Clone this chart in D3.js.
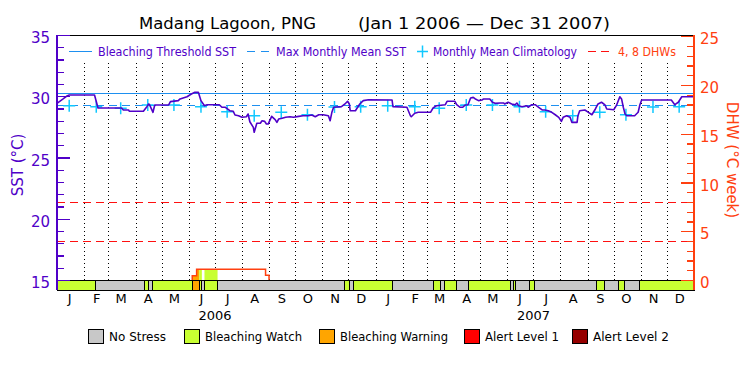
<!DOCTYPE html>
<html>
<head>
<meta charset="utf-8">
<script src="https://cdn.jsdelivr.net/npm/d3@7"></script>
<style>
  body { margin: 0; background: #fff; }
  text { font-family: "DejaVu Sans", sans-serif; }
</style>
</head>
<body>
<svg width="750" height="375"></svg>
<script>
// Chart data (days counted from Jan 1 2006)
let startDate = new Date(2006, 0, 1);
let endDate = new Date(2008, 0, 1);

let mmm = 29.3; // max monthly mean SST
let threshold = 30.3; // bleaching threshold (MMM + 1)

// monthly mean climatology, Jan..Dec
let climatology = [29.23, 29.15, 29.02, 29.29, 29.29, 29.15, 28.74, 28.41, 28.69, 28.5, 29.12, 29.15];

// SST series
let sstDays = [0, 7, 12, 14, 43, 47, 74, 76, 82, 83, 99, 103, 105, 106, 110, 112, 128, 130, 139, 141,
  149, 154, 158, 162, 165, 169, 172, 186, 189, 193, 198, 202, 204, 208, 212, 217, 219, 221, 225, 226,
  229, 233, 235, 238, 240, 242, 246, 250, 252, 254, 258, 262, 267, 271, 277, 282, 288, 292, 296, 300,
  305, 311, 313, 315, 317, 326, 330, 333, 335, 336, 342, 344, 347, 351, 357, 384, 385, 401, 405, 406,
  410, 414, 428, 431, 435, 445, 447, 456, 458, 462, 465, 468, 471, 474, 477, 479, 483, 487, 489, 496,
  499, 502, 508, 512, 513, 517, 521, 525, 527, 529, 533, 538, 540, 544, 548, 552, 556, 559, 563, 567,
  571, 575, 578, 580, 584, 588, 590, 596, 597, 599, 605, 609, 613, 617, 620, 624, 628, 630, 638, 641,
  645, 647, 649, 651, 653, 662, 666, 668, 670, 704, 708, 712, 716, 729];
let sstValues = [29.42, 29.78, 30.05, 30.1, 30.1, 29.04, 29.04, 28.88, 28.88, 28.77, 28.77, 29.15, 29.37, 29.31, 28.69, 29.29, 29.29, 29.56, 29.64, 29.78,
  29.96, 30.18, 30.32, 30.32, 29.64, 29.23, 29.31, 29.31, 29.1, 29.1, 28.82, 28.77, 28.47, 28.41, 28.28, 28.33, 28.55, 27.92, 27.46, 27.06,
  27.79, 27.79, 28.0, 27.95, 27.73, 27.73, 28.36, 28.09, 27.87, 28.14, 28.2, 28.28, 28.33, 28.28, 28.36, 28.41, 28.41, 28.47, 28.33, 28.49,
  28.49, 28.41, 28.0, 28.69, 29.1, 29.15, 29.37, 29.59, 29.37, 28.82, 28.82, 29.04, 29.37, 29.64, 29.72, 29.69, 29.15, 29.1, 28.41, 28.33,
  28.61, 28.69, 28.69, 29.04, 29.23, 29.31, 29.59, 29.59, 29.31, 29.1, 29.1, 29.29, 29.31, 29.86, 29.91, 29.8, 29.64, 29.69, 29.78, 29.78,
  29.51, 29.42, 29.45, 29.45, 29.37, 29.51, 29.37, 29.31, 29.45, 29.23, 29.15, 29.23, 29.1, 29.31, 29.31, 29.1, 28.88, 28.88, 28.82, 28.69,
  28.49, 28.28, 27.95, 28.28, 28.41, 28.28, 27.87, 27.87, 28.41, 28.82, 28.88, 28.69, 28.49, 28.96, 29.37, 29.51, 29.29, 28.96, 28.9, 29.23,
  29.96, 29.78, 29.1, 28.55, 28.41, 28.41, 28.69, 29.31, 29.69, 29.69, 29.31, 29.51, 29.96, 29.96];

// Degree heating weeks (step series)
let dhwDays = [155, 155, 160, 239, 243];
let dhwValues = [0, 0.44, 1.1, 0.5, 0];

// Stress level bar: segment start day and level (0 none, 1 watch, 2 warning, 3 alert 1, 4 alert 2)
let stressStart = [0, 44, 100, 105, 110, 155, 163, 166, 169, 184, 330, 335, 340, 384, 432, 440, 444, 458, 472, 520,
  523, 526, 541, 547, 618, 628, 643, 650, 668];
let stressLevel = [1, 0, 1, 0, 1, 2, 1, 0, 1, 0, 1, 0, 1, 0, 1, 0, 1, 0, 1, 0,
  1, 0, 1, 0, 1, 0, 1, 0, 1];

let stressNames = ["No Stress", "Bleaching Watch", "Bleaching Warning", "Alert Level 1", "Alert Level 2"];
let stressColors = ["#c8c8c8", "#c8ff32", "#ffa500", "#ff0000", "#960000"];

//////////////////// D3.js ///////////////////

let purple = "#5000c8";
let orange = "#ff4010";
let blue = "#1e90f0";
let cyan = "#10c8ff";

let svg = d3.select("svg");

let dayToDate = function (d) {
  return d3.timeDay.offset(startDate, d);
};

let x = d3.scaleTime().domain([startDate, endDate]).range([57, 694]);
let ySst = d3.scaleLinear().domain([15, 35]).range([280, 35]);
let yDhw = d3.scaleLinear().domain([0, 25]).range([280, 36.25]);

let barTop = 280;
let barBottom = 290;

// month boundary dotted lines
let monthStarts = d3.timeMonth.range(d3.timeMonth.offset(startDate, 1), endDate);
svg.append("g")
  .attr("shape-rendering", "crispEdges")
  .selectAll("line")
  .data(monthStarts)
  .enter()
  .append("line")
  .attr("x1", (d) => Math.round(x(d)) + 0.5)
  .attr("x2", (d) => Math.round(x(d)) + 0.5)
  .attr("y1", 63)
  .attr("y2", barTop)
  .attr("stroke", "#000")
  .attr("stroke-width", 1)
  .attr("stroke-dasharray", "1,3");

// DHW 4 and 8 lines
svg.append("g")
  .attr("shape-rendering", "crispEdges")
  .selectAll("line")
  .data([4, 8])
  .enter()
  .append("line")
  .attr("x1", 57)
  .attr("x2", 694)
  .attr("y1", (d) => Math.round(yDhw(d)) + 0.5)
  .attr("y2", (d) => Math.round(yDhw(d)) + 0.5)
  .attr("stroke", "#ff1010")
  .attr("stroke-width", 1)
  .attr("stroke-dasharray", "8,5");

// threshold and MMM
svg.append("line")
  .attr("x1", 57).attr("x2", 694)
  .attr("y1", Math.round(ySst(threshold)) + 0.5).attr("y2", Math.round(ySst(threshold)) + 0.5)
  .attr("shape-rendering", "crispEdges")
  .attr("stroke", blue).attr("stroke-width", 1);
svg.append("line")
  .attr("x1", 57).attr("x2", 694)
  .attr("y1", Math.round(ySst(mmm)) + 0.5).attr("y2", Math.round(ySst(mmm)) + 0.5)
  .attr("shape-rendering", "crispEdges")
  .attr("stroke", blue).attr("stroke-width", 1)
  .attr("stroke-dasharray", "8,5");

// stress segments as objects
let segments = stressStart.map(function (s, i) {
  let e = i < stressStart.length - 1 ? stressStart[i + 1] : 730;
  return { start: dayToDate(s), end: dayToDate(e), level: stressLevel[i] };
});

// DHW area filled with stress colour
let dhwPoints = dhwDays.map((d, i) => ({ date: dayToDate(d), v: dhwValues[i] }));
let dhwArea = d3.area()
  .x((d) => x(d.date))
  .y0(yDhw(0))
  .y1((d) => yDhw(d.v))
  .curve(d3.curveStepAfter);
svg.append("clipPath")
  .attr("id", "dhwClip")
  .append("path")
  .attr("d", dhwArea(dhwPoints));
svg.append("g")
  .attr("clip-path", "url(#dhwClip)")
  .selectAll("rect")
  .data(segments.filter((d) => d.level > 0))
  .enter()
  .append("rect")
  .attr("x", (d) => x(d.start))
  .attr("width", (d) => x(d.end) - x(d.start))
  .attr("y", yDhw(25))
  .attr("height", yDhw(0) - yDhw(25))
  .attr("fill", (d) => stressColors[d.level]);

let dhwLine = d3.line()
  .x((d) => x(d.date))
  .y((d) => yDhw(d.v))
  .curve(d3.curveStepAfter);
svg.append("path")
  .attr("d", dhwLine(dhwPoints))
  .attr("fill", "none")
  .attr("stroke", orange)
  .attr("stroke-width", 1.5);

// climatology crosses at mid month
let climPoints = [];
[2006, 2007].forEach(function (yr) {
  climatology.forEach(function (v, m) {
    climPoints.push({ date: new Date(yr, m, 15), v: v });
  });
});
svg.append("g")
  .selectAll("path")
  .data(climPoints)
  .enter()
  .append("path")
  .attr("d", (d) => {
    let cx = x(d.date), cy = ySst(d.v);
    return "M" + (cx - 6) + "," + cy + "H" + (cx + 6) + "M" + cx + "," + (cy - 6) + "V" + (cy + 6);
  })
  .attr("stroke", cyan)
  .attr("stroke-width", 1.5);

// SST line
let sstPoints = sstDays.map((d, i) => ({ date: dayToDate(d), v: sstValues[i] }));
svg.append("path")
  .attr("d", d3.line().x((d) => x(d.date)).y((d) => ySst(d.v))(sstPoints))
  .attr("fill", "none")
  .attr("stroke", purple)
  .attr("stroke-width", 1.6)
  .attr("stroke-linejoin", "round");

// stress bar
svg.append("g")
  .attr("shape-rendering", "crispEdges")
  .selectAll("rect")
  .data(segments)
  .enter()
  .append("rect")
  .attr("x", (d) => x(d.start))
  .attr("width", (d) => x(d.end) - x(d.start))
  .attr("y", barTop)
  .attr("height", barBottom - barTop)
  .attr("fill", (d) => stressColors[d.level])
  .attr("stroke", "#000")
  .attr("stroke-width", 1);

// top frame
svg.append("line")
  .attr("x1", 57).attr("x2", 694)
  .attr("y1", 35.5).attr("y2", 35.5)
  .attr("shape-rendering", "crispEdges")
  .attr("stroke", "#000").attr("stroke-width", 1);

// left axis
let leftAxis = svg.append("g").attr("transform", "translate(57,0)");
leftAxis.append("g")
  .call(d3.axisLeft(ySst).tickValues(d3.range(15, 36)).tickSize(-7).tickFormat(""))
  .call((g) => g.select(".domain").remove());
leftAxis.append("g")
  .call(d3.axisLeft(ySst).tickValues([15, 20, 25, 30, 35]).tickSize(-13).tickPadding(7))
  .call((g) => g.select(".domain").remove());
leftAxis.append("line").attr("y1", 35).attr("y2", barBottom);
leftAxis.selectAll("line")
  .attr("stroke", purple)
  .attr("stroke-width", 1.2)
  .attr("shape-rendering", "crispEdges");
leftAxis.selectAll("text")
  .attr("fill", purple)
  .attr("font-size", 15)
  .attr("dy", "0.5em");

// right axis
let rightAxis = svg.append("g").attr("transform", "translate(694,0)");
rightAxis.append("g")
  .call(d3.axisRight(yDhw).tickValues(d3.range(0, 26)).tickSize(-7).tickFormat(""))
  .call((g) => g.select(".domain").remove());
rightAxis.append("g")
  .call(d3.axisRight(yDhw).tickValues([0, 5, 10, 15, 20, 25]).tickSize(-13).tickPadding(6))
  .call((g) => g.select(".domain").remove());
rightAxis.append("line").attr("y1", 35).attr("y2", barBottom);
rightAxis.selectAll("line")
  .attr("stroke", orange)
  .attr("stroke-width", 1.2)
  .attr("shape-rendering", "crispEdges");
rightAxis.selectAll("text")
  .attr("fill", orange)
  .attr("font-size", 15)
  .attr("dy", "0.5em");

// month letters
let monthMids = d3.timeMonth.range(startDate, endDate).map((d) => new Date(d.getFullYear(), d.getMonth(), 15));
svg.append("g")
  .attr("transform", "translate(0," + barBottom + ")")
  .call(d3.axisBottom(x).tickValues(monthMids).tickSize(0).tickPadding(4)
    .tickFormat((d) => d3.timeFormat("%b")(d)[0]))
  .call((g) => g.select(".domain").remove())
  .selectAll("text")
  .attr("font-size", 13)
  .attr("fill", "#000");

// year labels
svg.append("g")
  .selectAll("text")
  .data([new Date(2006, 6, 1), new Date(2007, 6, 1)])
  .enter()
  .append("text")
  .attr("x", (d) => x(d))
  .attr("y", 320)
  .attr("text-anchor", "middle")
  .attr("font-size", 13)
  .text((d) => d.getFullYear());

// title
svg.append("text")
  .attr("x", 139).attr("y", 29)
  .attr("font-size", 16)
  .attr("textLength", 177).attr("lengthAdjust", "spacingAndGlyphs")
  .text("Madang Lagoon, PNG");
svg.append("text")
  .attr("x", 358).attr("y", 29)
  .attr("font-size", 16)
  .attr("textLength", 252).attr("lengthAdjust", "spacingAndGlyphs")
  .text("(Jan 1 2006 \u2014 Dec 31 2007)");

// axis titles
svg.append("text")
  .attr("transform", "translate(23,165) rotate(-90)")
  .attr("text-anchor", "middle")
  .attr("font-size", 15)
  .attr("fill", purple)
  .text("SST (\u00b0C)");
svg.append("text")
  .attr("transform", "translate(727,160) rotate(90)")
  .attr("text-anchor", "middle")
  .attr("font-size", 15)
  .attr("fill", orange)
  .text("DHW (\u00b0C week)");

// top legend
let legendY = 51.5;
svg.append("line").attr("x1", 69).attr("x2", 92).attr("y1", legendY).attr("y2", legendY)
  .attr("stroke", blue).attr("stroke-width", 1);
svg.append("line").attr("x1", 247).attr("x2", 269).attr("y1", legendY).attr("y2", legendY)
  .attr("stroke", blue).attr("stroke-width", 1).attr("stroke-dasharray", "8,6");
svg.append("path")
  .attr("d", "M417," + legendY + "H428M422.5," + (legendY - 6) + "V" + (legendY + 6))
  .attr("stroke", cyan).attr("stroke-width", 1.5);
svg.append("line").attr("x1", 588).attr("x2", 609).attr("y1", legendY).attr("y2", legendY)
  .attr("stroke", "#ff1010").attr("stroke-width", 1).attr("stroke-dasharray", "8,5");

let topLegend = [
  { x: 98, w: 138, label: "Bleaching Threshold SST", color: purple },
  { x: 276, w: 130, label: "Max Monthly Mean SST", color: purple },
  { x: 433, w: 144, label: "Monthly Mean Climatology", color: purple },
  { x: 618, w: 58, label: "4, 8 DHWs", color: orange },
];
svg.append("g")
  .selectAll("text")
  .data(topLegend)
  .enter()
  .append("text")
  .attr("x", (d) => d.x)
  .attr("y", legendY + 4)
  .attr("font-size", 12)
  .attr("textLength", (d) => d.w)
  .attr("lengthAdjust", "spacingAndGlyphs")
  .attr("fill", (d) => d.color)
  .text((d) => d.label);

// bottom legend
let boxX = [88, 184, 319, 464, 572];
let textW = [57, 97, 108, 74, 76];
let bottomLegend = svg.append("g");
stressNames.forEach(function (name, i) {
  bottomLegend.append("rect")
    .attr("x", boxX[i] + 0.5).attr("y", 329.5)
    .attr("width", 15).attr("height", 14)
    .attr("fill", stressColors[i])
    .attr("stroke", "#000");
  bottomLegend.append("text")
    .attr("x", boxX[i] + 21).attr("y", 341)
    .attr("font-size", 13)
    .attr("textLength", textW[i]).attr("lengthAdjust", "spacingAndGlyphs")
    .text(name);
});
</script>
</body>
</html>
